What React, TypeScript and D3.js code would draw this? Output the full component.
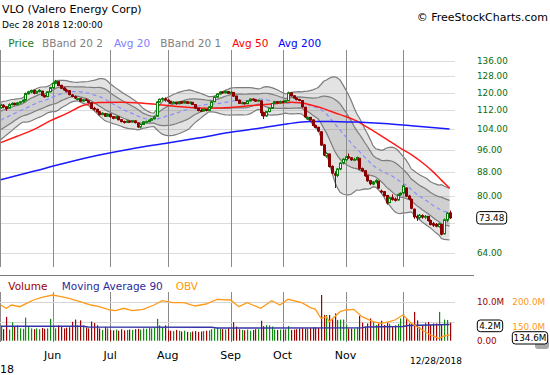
import React from "react";
import * as d3 from "d3";

type Bar = [number, number, number, number]; // open, high, low, close

// closes before the first visible session (needed for the 20-day bands)
const preCloses = [101, 102, 102.5, 103, 103.5, 104.5, 105, 106.5, 108, 108.5, 108, 109, 109.5, 110, 112, 111.5, 111, 112.5, 113];

const mayBars: Bar[] = [
  [113.2,115.0,112.8,114.3],[114.3,114.8,113.0,113.6],[113.6,113.9,111.8,112.8],[113.0,115.2,112.8,114.6],
  [114.6,115.6,114.2,115.1],[115.2,115.5,114.2,114.6],[114.6,115.8,114.3,115.4],[115.3,116.2,115.0,115.9],
  [115.9,117.0,115.5,116.6],[116.6,120.2,116.4,119.7],[119.6,121.0,119.2,120.5],[120.4,121.6,119.8,121.1],
  [121.2,121.5,119.3,119.8],[119.8,121.0,119.5,120.7],[120.6,121.8,120.2,121.2],[120.8,121.0,118.4,118.8],
  [118.8,119.3,117.8,118.2],[118.3,120.8,118.0,120.5],[120.5,122.9,120.3,122.5],
];
const junBars: Bar[] = [
  [122.4,124.9,122.0,124.6],[124.6,126.3,124.2,125.6],[125.4,125.6,123.2,123.5],[123.6,123.9,121.8,122.2],
  [122.3,122.8,120.9,121.4],[121.3,122.0,120.3,120.8],[121.0,121.3,118.8,119.2],[119.0,119.4,117.9,118.3],
  [118.2,118.8,117.1,117.6],[117.0,117.8,116.5,117.3],[117.3,117.5,115.8,116.2],[116.2,117.2,115.9,116.8],
  [116.8,117.5,116.3,116.5],[116.3,116.6,115.2,115.6],[115.4,115.6,112.6,112.9],[112.9,113.6,111.9,112.6],
  [112.5,112.8,111.1,111.4],[111.4,111.7,109.8,110.2],[110.2,111.2,109.9,110.8],[110.6,110.9,109.2,109.5],
  [109.5,110.8,109.3,110.4],
];
const julBars: Bar[] = [
  [110.4,110.6,108.9,109.3],[109.3,109.6,108.2,108.6],[108.6,109.7,108.3,109.3],[109.2,109.4,107.7,108.0],
  [108.0,108.3,106.9,107.2],[107.2,107.6,106.4,106.9],[106.9,107.8,106.6,107.4],[107.4,107.7,106.6,107.0],
  [107.0,107.9,106.8,107.6],[107.5,107.7,106.4,106.8],[106.6,106.8,104.6,105.0],[105.0,106.3,104.4,106.0],
  [106.0,107.3,105.8,107.1],[107.1,107.6,106.7,107.2],[107.2,108.1,106.9,107.8],[107.8,108.7,107.5,108.4],
  [108.4,109.6,108.1,109.2],[109.5,116.2,109.2,115.8],[115.8,117.4,115.5,117.0],[117.0,117.9,116.3,117.4],
  [117.2,117.9,115.9,116.7],
];
const augBars: Bar[] = [
  [116.6,117.0,115.6,116.1],[116.1,116.3,114.8,115.2],[115.2,116.1,115.0,115.7],[115.7,115.9,114.6,115.0],
  [115.0,116.2,114.8,115.9],[115.9,116.2,114.9,115.3],[115.3,116.4,115.1,116.0],[115.9,116.1,114.9,115.2],
  [115.2,116.0,114.8,115.7],[115.6,115.8,114.4,114.7],[114.6,114.8,112.7,113.0],[113.0,113.2,111.6,112.0],
  [112.0,112.7,111.3,111.7],[111.7,112.9,111.5,112.5],[112.4,112.6,111.6,112.0],[112.0,113.8,111.8,113.6],
  [113.6,116.1,113.4,115.9],[115.9,118.3,115.7,118.1],[118.0,119.8,117.7,119.5],[119.5,120.8,119.2,120.4],
  [120.4,120.9,119.6,120.0],[120.0,121.2,119.8,120.7],[120.6,120.9,119.4,119.8],
];
const sepBars: Bar[] = [
  [119.8,120.8,119.4,120.3],[120.2,120.4,118.2,118.5],[118.5,118.7,116.2,116.5],[116.6,116.9,114.9,115.2],
  [115.2,115.9,114.8,115.4],[115.4,115.7,114.6,115.0],[115.0,116.6,114.9,116.3],[116.3,117.5,116.0,117.1],
  [117.1,117.5,116.4,116.8],[116.8,117.0,115.9,116.2],[116.2,116.9,115.9,116.6],[116.3,116.5,109.6,111.0],
  [111.0,111.4,108.3,109.6],[109.6,111.8,109.3,111.5],[111.5,113.2,111.2,112.9],[112.9,115.4,112.7,115.1],
  [115.1,116.3,114.8,115.9],[115.9,116.2,115.0,115.4],[115.4,116.4,115.1,116.0],
];
const octBars: Bar[] = [
  [116.0,116.4,115.3,115.7],[115.7,116.8,115.5,116.4],[116.4,120.6,116.2,120.0],[120.0,120.3,118.2,118.6],
  [118.6,118.9,117.3,117.6],[117.6,117.9,116.5,116.9],[116.9,117.3,116.1,116.6],[116.4,116.6,113.2,113.6],
  [113.4,113.6,108.7,109.2],[108.3,109.4,107.9,109.0],[109.0,109.2,107.5,107.9],[107.9,108.2,105.2,105.6],
  [105.6,106.0,104.4,104.8],[104.8,105.1,102.9,103.3],[103.0,103.2,97.4,97.8],[97.8,98.2,93.6,94.0],
  [93.6,95.0,93.0,94.6],[94.4,94.6,89.5,89.9],[89.9,90.3,87.2,87.6],[87.3,88.2,82.6,86.9],
  [86.8,89.4,86.2,89.0],[89.0,91.4,88.6,91.1],[91.1,92.8,90.6,92.5],
];
const novBars: Bar[] = [
  [92.3,93.8,91.8,93.3],[93.4,94.6,92.6,93.0],[93.0,93.3,91.9,92.3],[92.3,93.0,91.8,92.4],
  [92.3,93.5,92.0,93.1],[92.8,93.0,88.7,89.1],[89.1,89.5,88.0,88.4],[88.4,88.6,86.3,86.7],
  [86.7,87.0,84.6,85.0],[85.0,85.3,83.5,84.0],[83.9,84.9,83.5,84.6],[84.6,85.5,84.1,85.1],
  [84.8,85.0,82.3,82.6],[81.6,82.1,80.9,81.4],[81.4,81.6,79.8,80.2],[80.2,80.4,77.4,77.9],
  [78.0,79.9,77.8,79.5],[79.5,80.6,78.6,79.0],[79.1,79.6,78.3,78.7],[78.8,80.8,78.6,80.5],
  [80.5,81.2,80.1,80.9],
];
const decBars: Bar[] = [
  [81.0,83.8,80.8,83.3],[82.6,82.8,79.7,80.0],[80.0,80.4,78.8,79.2],[79.0,79.3,76.0,76.3],
  [76.0,76.2,73.2,73.8],[73.8,74.4,72.6,73.5],[73.5,74.6,73.0,74.2],[74.1,74.5,73.2,73.7],
  [73.7,74.3,73.1,73.9],[73.9,74.0,72.4,72.7],[72.7,73.0,71.3,71.6],[71.8,72.3,70.9,71.4],
  [71.6,72.0,70.8,71.1],[71.0,72.1,70.7,71.8],[71.6,71.8,68.6,68.9],[69.0,73.3,68.8,72.9],
  [72.8,75.2,72.2,74.8],[74.9,75.6,73.1,73.48],
];

// daily volume, millions
const mayVol = [3.6,3.0,6.2,2.9,4.8,3.6,4.0,3.2,3.1,6.0,3.6,3.2,3.0,3.2,3.0,3.3,3.1,3.2,5.7];
const junVol = [3.7,3.2,4.0,3.7,3.2,3.4,3.5,4.9,5.5,4.0,5.3,4.0,3.4,3.2,5.0,4.6,4.0,3.2,2.8,3.6,3.2];
const julVol = [2.8,2.7,2.9,2.6,3.0,2.7,2.8,2.9,2.8,3.0,3.1,2.9,3.2,3.1,3.3,3.2,3.4,5.7,4.0,3.6,4.0];
const augVol = [2.7,2.6,2.5,2.8,2.6,2.4,2.6,2.3,2.2,2.4,2.5,2.3,2.4,2.5,2.6,2.7,3.0,3.2,3.4,3.1,3.0,2.9,3.2];
const sepVol = [2.9,4.8,3.7,3.0,2.8,2.7,2.9,2.6,2.8,3.0,3.0,5.2,3.8,4.1,4.0,3.7,2.9,2.8,2.9];
const octVol = [2.8,3.0,3.8,2.8,2.9,3.0,3.2,3.3,3.2,3.2,3.3,3.4,3.5,3.3,11.9,6.7,6.7,6.7,5.6,7.1,5.4,5.5,5.5];
const novVol = [4.1,3.2,3.2,3.2,3.4,6.5,4.7,3.7,4.5,5.8,4.9,4.1,4.5,5.2,4.1,4.7,4.4,3.6,4.0,4.4,5.8];
const decVol = [6.9,5.8,4.5,4.5,7.5,5.3,3.6,4.1,4.7,4.9,4.1,4.5,4.5,7.5,4.1,5.5,5.4,4.7];

// [session index, value]
const sma50Points: [number, number][] = [
  [0,98.7],[6,101.2],[12,103.9],[18,107.5],[24,110.6],[30,114.2],[36,115.6],[44,115.7],[52,115.2],[60,114.3],
  [68,113.4],[76,113.0],[84,113.3],[92,114.2],[100,115.0],[106,115.7],[110,115.3],[114,114.2],[118,112.8],
  [122,111.0],[126,109.4],[130,107.5],[134,104.8],[138,102.1],[142,99.3],[146,96.6],[150,94.2],[154,91.3],
  [158,88.0],[161,85.2],[164,82.5],
];
const sma200Points: [number, number][] = [
  [0,85.3],[12,88.2],[24,91.2],[36,94.0],[48,96.4],[60,98.4],[72,100.5],[84,102.8],[95,104.5],[105,106.3],
  [113,107.2],[120,107.3],[130,107.0],[140,106.4],[150,105.5],[164,104.1],
];
const volMa90Points: [number, number][] = [
  [0,3.75],[30,3.75],[32,3.55],[77,3.5],[79,3.3],[132,3.35],[134,3.6],[147,3.7],[149,3.95],[164,4.2],
];
const obvPoints: [number, number][] = [
  [0,194.6],[2,188],[4,194.6],[7,191.2],[10,199.2],[12,204.6],[15,210],[19,214.6],[22,211.2],[25,208],
  [29,201.2],[33,194.6],[36,191.2],[40,184.6],[42,183.2],[45,188],[48,183.2],[52,186],[56,194.6],[59,203.2],
  [63,199.2],[67,199.2],[71,192.6],[75,196.6],[79,206],[84,204.6],[87,191.2],[90,199.2],[95,188],[99,203.2],
  [102,194.6],[105,206],[110,199.2],[113,190],[115,186],[117,168],[119,171.2],[120,161.2],[122,171.2],
  [124,181.2],[126,184.6],[129,186],[132,171.2],[136,161.2],[139,158],[142,161.2],[144,164.6],[147,174.6],
  [150,158],[153,148],[157,134.6],[160,128],[162,132.6],[164,134.6],
];

const monthNames = ["May", "Jun", "Jul", "Aug", "Sep", "Oct", "Nov", "Dec"];
const priceTicks = [136, 128, 120, 112, 104, 96, 88, 80, 72, 64];
const hiddenPriceLabels = [72];
const volTicks = [0, 10];
const volGrid = [5, 10];
const obvTicks = [150, 200];
const lastPrice = 73.48;
const lastVolMa = 4.2;
const lastObv = 134.6;

const FONT = "'DejaVu Sans', Verdana, sans-serif";
const GREEN = "#0a7d0a";
const RED = "#8b0000";

export default function App() {
  const monthBars = [mayBars, junBars, julBars, augBars, sepBars, octBars, novBars, decBars];
  const bars: Bar[] = monthBars.flat();
  const vols: number[] = [mayVol, junVol, julVol, augVol, sepVol, octVol, novVol, decVol].flat();
  const n = bars.length;
  const starts: number[] = [];
  let acc = 0;
  monthBars.forEach((m) => { starts.push(acc); acc += m.length; });

  const x = d3.scaleLinear().domain([0, n - 1]).range([0.7, 449.6]);
  const y = d3.scaleLog().domain([64, 136]).range([253, 61]);
  const yv = d3.scaleLinear().domain([0, 10]).range([340.7, 302.3]);
  const yo = d3.scaleLinear().domain([150, 200]).range([327.3, 302.3]);

  const closes = bars.map((b) => b[3]);
  const all = [...preCloses, ...closes];
  const bb = closes.map((_, i) => {
    const w = all.slice(i, i + 20);
    const m = d3.mean(w) as number;
    const sd = Math.sqrt(d3.mean(w, (v) => (v - m) * (v - m)) as number);
    return { i, m, sd };
  });
  type B = { i: number; m: number; sd: number };
  const band = (k: number) =>
    d3.area<B>().x((d) => x(d.i)).y0((d) => y(d.m - k * d.sd)).y1((d) => y(d.m + k * d.sd));
  const bline = (k: number) => d3.line<B>().x((d) => x(d.i)).y((d) => y(d.m + k * d.sd));
  const ptLine = d3.line<[number, number]>().x((d) => x(d[0])).y((d) => y(d[1])).curve(d3.curveMonotoneX);
  const volMaLine = d3.line<[number, number]>().x((d) => x(d[0])).y((d) => yv(d[1]));
  const obvLine = d3.line<[number, number]>().x((d) => x(d[0])).y((d) => yo(d[1]));

  const monthLineIdx = starts.slice(1);

  return (
    <div style={{ position: "absolute", left: 0, top: 0 }}>
      <svg width={550} height={375} style={{ display: "block", background: "#fff" }} fontFamily={FONT}>
        <defs>
          <clipPath id="pc"><rect x={0} y={50} width={455} height={220} /></clipPath>
          <clipPath id="vc"><rect x={0} y={290} width={455} height={55} /></clipPath>
        </defs>
        <rect x={0} y={0} width={550} height={375} fill="#fff" />

        {/* header */}
        <text x={2} y={13} fontSize={11} fill="#000">VLO (Valero Energy Corp)</text>
        <text x={2} y={28} fontSize={9} fill="#000">Dec 28 2018 12:00:00</text>
        <text x={548} y={21} fontSize={11} fill="#000" textAnchor="end">© FreeStockCharts.com</text>

        {/* legend */}
        <g fontSize={10.5}>
          <text x={8.3} y={46.5} fill="#1a7a1a">Price</text>
          <text x={42} y={46.5} fill="#808080">BBand 20 2</text>
          <text x={114} y={46.5} fill="#8080ff">Avg 20</text>
          <text x={160.3} y={46.5} fill="#808080">BBand 20 1</text>
          <text x={232.3} y={46.5} fill="#ff0000">Avg 50</text>
          <text x={278.3} y={46.5} fill="#0000ff">Avg 200</text>
        </g>

        {/* price grid */}
        {priceTicks.map((t) => (
          <line key={t} x1={0} x2={455} y1={Math.round(y(t)) + 0.5} y2={Math.round(y(t)) + 0.5} stroke="#dcdcdc" strokeWidth={1} />
        ))}

        <g clipPath="url(#pc)">
          <path d={band(2)(bb) || ""} fill="rgba(128,128,128,0.22)" />
          <path d={band(1)(bb) || ""} fill="rgba(128,128,128,0.2)" />
          {[2, 1, -1, -2].map((k) => (
            <path key={k} d={bline(k)(bb) || ""} fill="none" stroke="#7c7c7c" strokeWidth={1.2} />
          ))}
        </g>

        {/* month lines */}
        <line x1={0.5} x2={0.5} y1={50} y2={267} stroke="#8a8a8a" />
        <line x1={0.5} x2={0.5} y1={292} y2={342} stroke="#8a8a8a" />
        {monthLineIdx.map((idx) => {
          const xx = Math.round(x(idx)) + 0.5;
          return (
            <g key={idx}>
              <line x1={xx} x2={xx} y1={50} y2={267} stroke="#8a8a8a" />
              <line x1={xx} x2={xx} y1={292} y2={342} stroke="#8a8a8a" />
            </g>
          );
        })}

        <g clipPath="url(#pc)">
          <path d={d3.line<B>().x((d) => x(d.i)).y((d) => y(d.m))(bb) || ""} fill="none" stroke="#8c8cff" strokeWidth={1.2} strokeDasharray="4,3" />
          <path d={ptLine(sma50Points) || ""} fill="none" stroke="#ff1a1a" strokeWidth={1.5} />
          <path d={ptLine(sma200Points) || ""} fill="none" stroke="#1a1aff" strokeWidth={1.5} />
          {bars.map((b, i) => {
            const [o, h, l, c] = b;
            const up = c >= o;
            const col = up ? GREEN : RED;
            const cx = Math.round(x(i)) + 0.5;
            const top = y(Math.max(o, c));
            const bot = y(Math.min(o, c));
            return (
              <g key={i}>
                <line x1={cx} x2={cx} y1={y(h)} y2={y(l)} stroke={col} strokeWidth={1} />
                <rect x={cx - 1} y={top} width={2} height={Math.max(bot - top, 0.8)} fill={up ? "#fff" : col} stroke={col} strokeWidth={1} />
              </g>
            );
          })}
        </g>

        {/* price axis */}
        <g fontSize={8.8} fill="#0b6b0b">
          {priceTicks.filter((t) => !hiddenPriceLabels.includes(t)).map((t) => (
            <text key={t} x={477} y={y(t)} dominantBaseline="central">{t.toFixed(2)}</text>
          ))}
        </g>
        <rect x={476.7} y={y(lastPrice) - 6.2} width={30} height={12.4} rx={3} fill="#fff" stroke="#000" strokeWidth={1} />
        <text x={491.7} y={y(lastPrice)} fontSize={8.8} textAnchor="middle" dominantBaseline="central" fill="#000">{lastPrice.toFixed(2)}</text>

        {/* panel divider */}
        <line x1={0} x2={474} y1={275.5} y2={275.5} stroke="#7a7a7a" strokeWidth={1} />

        {/* volume legend */}
        <g fontSize={10.5}>
          <text x={8.3} y={289.5} fill="#a00000">Volume</text>
          <text x={61.7} y={289.5} fill="#2b2b9c">Moving Average 90</text>
          <text x={175.7} y={289.5} fill="#ff9900">OBV</text>
        </g>

        {/* volume grid */}
        {volGrid.map((t) => (
          <line key={t} x1={0} x2={455} y1={Math.round(yv(t)) + 0.5} y2={Math.round(yv(t)) + 0.5} stroke="#d6d6d6" />
        ))}

        <g clipPath="url(#vc)">
          {vols.map((v, i) => {
            const [o, , , c] = bars[i];
            const col = c >= o ? "#108a10" : "#a00000";
            const xx = Math.round(x(i));
            return <rect key={i} x={xx} y={yv(v)} width={1.2} height={yv(0) - yv(v)} fill={col} />;
          })}
          <path d={volMaLine(volMa90Points) || ""} fill="none" stroke="#3434a8" strokeWidth={1.5} />
          <path d={obvLine(obvPoints) || ""} fill="none" stroke="#ff9a1a" strokeWidth={1.3} />
        </g>

        {/* volume axes */}
        <g fontSize={8.8}>
          {volTicks.map((t) => (
            <text key={t} x={477} y={yv(t)} dominantBaseline="central" fill="#a00000">{t === 0 ? "0.00" : t.toFixed(1) + "M"}</text>
          ))}
          {obvTicks.map((t) => (
            <text key={t} x={512.3} y={yo(t)} dominantBaseline="central" fill="#ff9a1a">{t.toFixed(1) + "M"}</text>
          ))}
        </g>
        <rect x={535} y={340} width={14} height={9} rx={3} fill="#a8a8a8" />
        <rect x={477.3} y={320} width={25.4} height={11.7} rx={3} fill="#fff" stroke="#000" />
        <text x={490} y={326} fontSize={8.8} textAnchor="middle" dominantBaseline="central" fill="#000">{lastVolMa.toFixed(1)}M</text>
        <rect x={512.3} y={331.7} width={35.4} height={12.3} rx={3} fill="#fff" stroke="#000" />
        <text x={530} y={337.9} fontSize={8.8} textAnchor="middle" dominantBaseline="central" fill="#000">{lastObv.toFixed(1)}M</text>

        {/* x axis labels */}
        <g fontSize={11} fill="#000">
          {monthNames.map((m, k) =>
            k >= 1 && k <= 6 ? (
              <text key={m} x={x(starts[k])} y={359} textAnchor="middle">{m}</text>
            ) : null
          )}
          <text x={0} y={372.5}>18</text>
        </g>
        <text x={410} y={364.3} fontSize={9} fill="#000">12/28/2018</text>
      </svg>
    </div>
  );
}
